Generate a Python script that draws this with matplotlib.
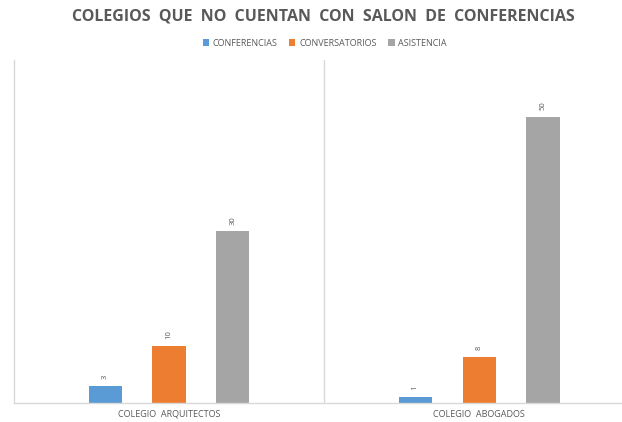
import numpy as np
import matplotlib.pyplot as plt

plt.rcParams['font.family'] = ['Open Sans', 'DejaVu Sans']

colegios = ['COLEGIO  ARQUITECTOS', 'COLEGIO  ABOGADOS']
series = ['CONFERENCIAS', 'CONVERSATORIOS', 'ASISTENCIA']
conferencias = [3, 1]
conversatorios = [10, 8]
asistencia = [30, 50]

colores = ['#5B9BD5', '#ED7D31', '#A5A5A5']
gris = '#D9D9D9'

fig = plt.figure(figsize=(6.22, 4.22), dpi=100)
ax = fig.add_axes([0.0225, 0.045, 0.997, 0.813])

x = np.arange(len(colegios))
ancho = 0.107
paso = 0.206
for i, (nombre, vals) in enumerate(zip(series, [conferencias, conversatorios, asistencia])):
    pos = x + (i - 1) * paso
    barras = ax.bar(pos, vals, ancho, color=colores[i], label=nombre)
    for b, v in zip(barras, vals):
        ax.text(b.get_x() + b.get_width() / 2, v + 1.2, str(v), rotation=90,
                ha='center', va='bottom', fontsize=5.5, color='#595959')

ax.set_xlim(-0.5, 1.5)
ax.set_ylim(0, 60)
ax.axvline(0.5, color=gris, lw=1)
for s in ['top', 'right']:
    ax.spines[s].set_visible(False)
for s in ['left', 'bottom']:
    ax.spines[s].set_color(gris)
    ax.spines[s].set_linewidth(1)
ax.set_yticks([])
ax.set_xticks(x)
ax.set_xticklabels(colegios, fontsize=6.5, color='#595959')
ax.tick_params(axis='x', length=0, pad=5)

fig.text(0.52, 0.96, 'COLEGIOS  QUE  NO  CUENTAN  CON  SALON  DE  CONFERENCIAS',
         ha='center', va='center', fontsize=11.5, fontweight='bold', color='#595959')
fig.legend(loc='center', bbox_to_anchor=(0.522, 0.898), ncol=3, frameon=False,
           fontsize=6.5, handlelength=0.7, handleheight=0.7, handletextpad=0.4,
           columnspacing=1.3, labelcolor='#595959')

fig.savefig('out.png', dpi=100)
